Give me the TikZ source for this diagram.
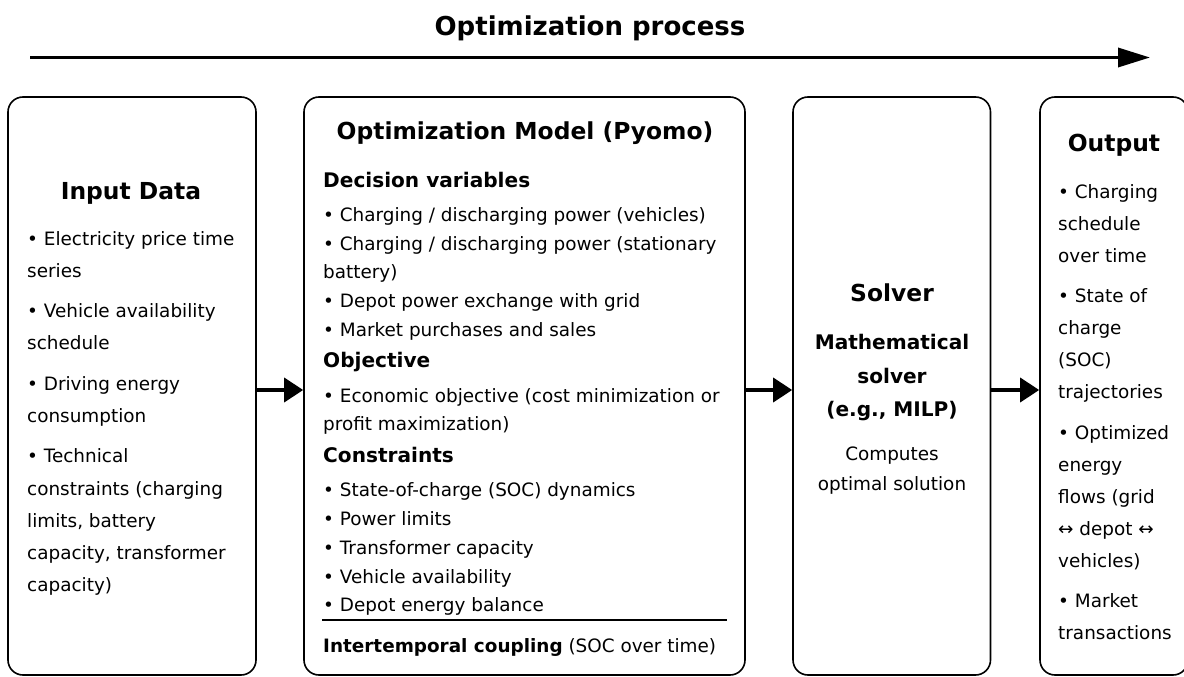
\documentclass[tikz,border=0pt]{standalone}
\usepackage{fontspec}
\setmainfont{DejaVu Sans}
\usetikzlibrary{positioning,arrows.meta}

\begin{document}
\begin{tikzpicture}[x=1pt,y=-1pt,
    box/.style={draw,line width=1.6pt,rounded corners=15pt,inner sep=0pt,minimum height=578pt},
    txt/.style={anchor=base west,inner sep=0pt,font=\fontsize{18.4}{22}\selectfont},
    ctxt/.style={txt,anchor=base},
    hd/.style={anchor=base,inner sep=0pt,font=\fontsize{23.4}{28}\selectfont\bfseries},
    sub/.style={anchor=base west,inner sep=0pt,font=\fontsize{20.1}{24}\selectfont\bfseries},
    flow/.style={line width=3.5pt,-{Triangle[length=19pt,width=24pt]}}]
  \useasboundingbox (0,0) rectangle (1184,677);

  % process arrow on top
  \node[anchor=base,inner sep=0pt,font=\fontsize{26}{30}\selectfont\bfseries] (title) at (590,35.5) {Optimization process};
  \coordinate (start) at (30,57.5);
  \coordinate (stop) at (1150,57.5);
  \draw[line width=3.5pt,-{Triangle[length=32pt,width=19pt]}] (start) -- (stop);

  % the four stages
  \node[box,minimum width=248pt] (input) at (132,386) {};
  \node[box,minimum width=441pt] (model) at (524.5,386) {};
  \node[box,minimum width=197.5pt] (solver) at (891.75,386) {};
  \node[box,minimum width=148pt] (output) at (1114,386) {};

  \coordinate (lvl) at (0,390);
  \draw[flow] (input.east |- lvl) -- (model.west |- lvl);
  \draw[flow] (model.east |- lvl) -- (solver.west |- lvl);
  \draw[flow] (solver.east |- lvl) -- (output.west |- lvl);

  % input data
  \node[hd] (inhd) at (131,199) {Input Data};
  \foreach \y/\t [count=\i] in {245/{• Electricity price time}, 277/series,
      317/{• Vehicle availability}, 349/schedule,
      390/{• Driving energy}, 422/consumption,
      462/{• Technical}, 495/{constraints (charging}, 527/{limits, battery},
      559/{capacity, transformer}, 591/{capacity)}}
    \node[txt] (in\i) at (27,\y) {\t};

  % optimization model
  \node[hd] (modhd) at (525,139.5) {Optimization Model (Pyomo)};
  \node[sub] (dec) at (323,187.5) {Decision variables};
  \node[sub] (obj) at (323,367.5) {Objective};
  \node[sub] (con) at (323,462.5) {Constraints};
  \foreach \y/\t [count=\i] in {221/{• Charging / discharging power (vehicles)},
      250/{• Charging / discharging power (stationary}, 278/{battery)},
      307/{• Depot power exchange with grid}, 336/{• Market purchases and sales},
      402/{• Economic objective (cost minimization or}, 430/{profit maximization)},
      496/{• State-of-charge (SOC) dynamics}, 525/{• Power limits},
      554/{• Transformer capacity}, 583/{• Vehicle availability},
      611/{• Depot energy balance}}
    \node[txt] (mod\i) at (323,\y) {\t};
  \coordinate (rl) at (322,620);
  \coordinate (rr) at (727,620);
  \draw[line width=1.2pt] (rl) -- (rr);
  \node[txt] (coup) at (323,652) {\textbf{Intertemporal coupling} (SOC over time)};

  % solver
  \node[hd] (solhd) at (892,301.5) {Solver};
  \foreach \y/\t [count=\i] in {349/Mathematical, 383/solver, 416/{(e.g., MILP)}}
    \node[hd,font=\fontsize{20.1}{24}\selectfont\bfseries] (sol\i) at (892,\y) {\t};
  \node[ctxt] (comp1) at (892,460) {Computes};
  \node[ctxt] (comp2) at (892,490) {optimal solution};

  % output
  \node[hd] (outhd) at (1114,151.5) {Output};
  \foreach \y/\t [count=\i] in {198/{• Charging}, 230/schedule, 262/{over time},
      302/{• State of}, 334/charge, 366/{(SOC)}, 398/trajectories,
      439/{• Optimized}, 471/energy, 503/{flows (grid}, 535/{↔ depot ↔}, 567/{vehicles)},
      607/{• Market}, 639/transactions}
    \node[txt] (out\i) at (1058,\y) {\t};
\end{tikzpicture}
\end{document}
